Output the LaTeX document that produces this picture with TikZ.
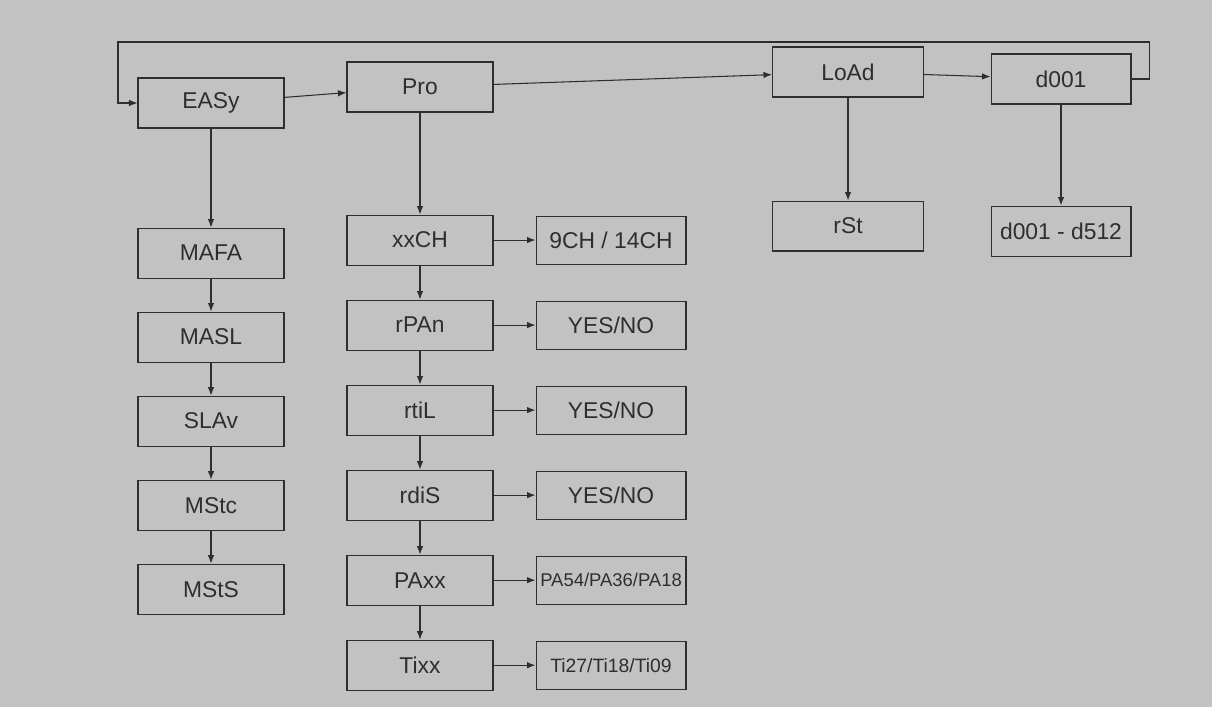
\documentclass[tikz,border=0pt]{standalone}
\usepackage{fontspec}
\setmainfont{Liberation Sans}
\usepackage{tikz}
\usetikzlibrary{arrows.meta, positioning}
\definecolor{paper}{HTML}{C2C2C2}
\definecolor{ink}{HTML}{2E2E2E}

\begin{document}
\begin{tikzpicture}[x=0.02cm, y=-0.02cm,
        color=ink, line width=0.6pt,
        every node/.style={draw=ink,
        fill=paper,
        text=ink,
        minimum width=2.92cm,
        minimum height=1cm,
        inner sep=2pt,
        font=\fontsize{13}{15}\selectfont,
        align=center},
        >={Latex[length=1.7mm,width=1.3mm]}]
        \useasboundingbox[fill=paper] (0,0) rectangle (1212,707);
        % top row
        \node (easy) at (211,103) {EASy};
        \node (pro) at (420,87) {Pro};
        \node[minimum width=3.02cm] (load) at (848,72) {LoAd};
        \node[minimum width=2.8cm] (d001) at (1061,79) {d001};
        \draw[->] (easy) -- (pro);
        \draw[->] (pro) -- (load);
        \draw[->] (load) -- (d001);
        \draw[->] (d001.east) -- ++(18,0) |- (118,42) |- (easy.west);
        % EASy branch
        \node[below=1.98cm of easy] (mafa) {MAFA};
        \node[below=0.66cm of mafa] (masl) {MASL};
        \node[below=0.66cm of masl] (slav) {SLAv};
        \node[below=0.66cm of slav] (mstc) {MStc};
        \node[below=0.66cm of mstc] (msts) {MStS};
        \draw[->] (easy) -- (mafa);
        \draw[->] (mafa) -- (masl);
        \draw[->] (masl) -- (slav);
        \draw[->] (slav) -- (mstc);
        \draw[->] (mstc) -- (msts);
        % Pro branch
        \node[below=2.04cm of pro] (xxch) {xxCH};
        \node[below=0.68cm of xxch] (rpan) {rPAn};
        \node[below=0.68cm of rpan] (rtil) {rtiL};
        \node[below=0.68cm of rtil] (rdis) {rdiS};
        \node[below=0.68cm of rdis] (paxx) {PAxx};
        \node[below=0.68cm of paxx] (tixx) {Tixx};
        \draw[->] (pro) -- (xxch);
        \draw[->] (xxch) -- (rpan);
        \draw[->] (rpan) -- (rtil);
        \draw[->] (rtil) -- (rdis);
        \draw[->] (rdis) -- (paxx);
        \draw[->] (paxx) -- (tixx);
        \begin{scope}[every node/.append style={minimum width=3cm, minimum height=0.96cm}]
            \node[right=0.84cm of xxch] (chval) {9CH / 14CH};
            \node[right=0.84cm of rpan] (panval) {YES/NO};
            \node[right=0.84cm of rtil] (tilval) {YES/NO};
            \node[right=0.84cm of rdis] (disval) {YES/NO};
            \node[right=0.84cm of paxx, font=\fontsize{10.5}{12}\selectfont] (paval) {PA54/PA36/PA18};
            \node[right=0.84cm of tixx, font=\fontsize{11}{13}\selectfont] (tival) {Ti27/Ti18/Ti09};
        \end{scope}
        \draw[->] (xxch) -- (chval);
        \draw[->] (rpan) -- (panval);
        \draw[->] (rtil) -- (tilval);
        \draw[->] (rdis) -- (disval);
        \draw[->] (paxx) -- (paval);
        \draw[->] (tixx) -- (tival);
        % LoAd and d001 branches
        \node[minimum width=3.02cm, below=2.06cm of load] (rst) {rSt};
        \node[minimum width=2.8cm, below=2.02cm of d001] (drange) {d001 - d512};
        \draw[->] (load) -- (rst);
        \draw[->] (d001) -- (drange);
    \end{tikzpicture}
\end{document}
